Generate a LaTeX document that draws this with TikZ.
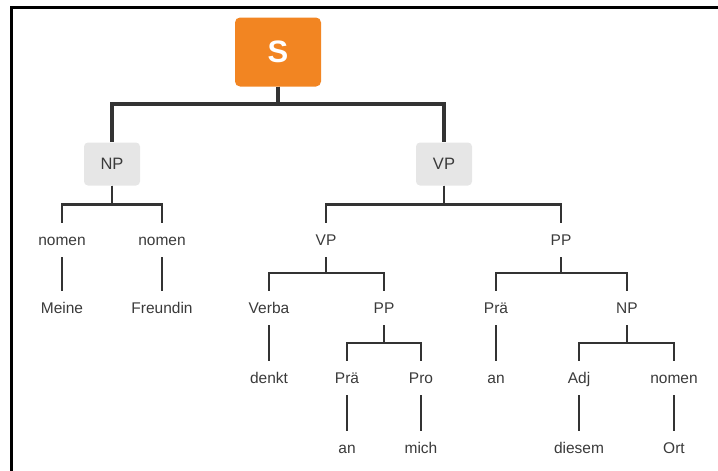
\documentclass[tikz,border=0pt]{standalone}
\usepackage{fontspec}
\setmainfont{Liberation Sans}
\definecolor{sorange}{HTML}{F28522}
\definecolor{boxgray}{HTML}{E6E6E6}
\definecolor{linegray}{HTML}{333333}
\definecolor{textgray}{HTML}{3A3A3A}
\tikzset{
  cat/.style={font=\fontsize{15.5}{17}\selectfont, text=textgray, inner sep=0pt,
    minimum height=34pt, text height=11pt, text depth=0pt},
  phrasebox/.style={cat, font=\fontsize{16.5}{18}\selectfont, fill=boxgray, rounded corners=4pt,
    minimum width=56pt, minimum height=43pt},
  rootbox/.style={fill=sorange, rounded corners=5pt, minimum width=86pt, minimum height=69pt,
    text=white, font=\fontsize{31}{33}\selectfont\bfseries, inner sep=0pt},
  branch/.style={draw=linegray, line width=2.5pt},
  mainbranch/.style={draw=linegray, line width=4pt}
}
\begin{document}
\begin{tikzpicture}[x=1pt, y=-1pt]
\useasboundingbox (0,0) rectangle (718,471);
\draw[line width=3pt] (11,471) -- (11,7) -- (718,7);
% nodes
\node[rootbox] (s) at (278,52) {S};
\node[phrasebox] (np) at (112,164) {NP};
\node[phrasebox] (vp) at (444,164) {VP};
\node[cat] (nomA) at (62,240) {nomen};
\node[cat] (nomB) at (162,240) {nomen};
\node[cat] (meine) at (62,308) {Meine};
\node[cat] (freundin) at (162,308) {Freundin};
\node[cat] (vpB) at (326,240) {VP};
\node[cat] (ppA) at (561,240) {PP};
\node[cat] (verba) at (269,308) {Verba};
\node[cat] (ppB) at (384,308) {PP};
\node[cat] (praeA) at (496,308) {Prä};
\node[cat] (npB) at (627,308) {NP};
\node[cat] (denkt) at (269,378) {denkt};
\node[cat] (praeB) at (347,378) {Prä};
\node[cat] (pro) at (421,378) {Pro};
\node[cat] (anA) at (496,378) {an};
\node[cat] (adj) at (579,378) {Adj};
\node[cat] (nomC) at (674,378) {nomen};
\node[cat] (anB) at (347,448) {an};
\node[cat] (mich) at (421,448) {mich};
\node[cat] (diesem) at (579,448) {diesem};
\node[cat] (ort) at (674,448) {Ort};
% connectors
\draw[mainbranch] (s.south) -- ++(0,17.5) -| (np.north);
\draw[mainbranch] (s.south) -- ++(0,17.5) -| (vp.north);
\draw[branch] (np.south) -- ++(0,19) -| (nomA.north);
\draw[branch] (np.south) -- ++(0,19) -| (nomB.north);
\draw[branch] (nomA) -- (meine);
\draw[branch] (nomB) -- (freundin);
\draw[branch] (vp.south) -- ++(0,19) -| (vpB.north);
\draw[branch] (vp.south) -- ++(0,19) -| (ppA.north);
\draw[branch] (vpB.south) -- ++(0,16) -| (verba.north);
\draw[branch] (vpB.south) -- ++(0,16) -| (ppB.north);
\draw[branch] (ppA.south) -- ++(0,16) -| (praeA.north);
\draw[branch] (ppA.south) -- ++(0,16) -| (npB.north);
\draw[branch] (verba) -- (denkt);
\draw[branch] (ppB.south) -- ++(0,18) -| (praeB.north);
\draw[branch] (ppB.south) -- ++(0,18) -| (pro.north);
\draw[branch] (praeA) -- (anA);
\draw[branch] (npB.south) -- ++(0,18) -| (adj.north);
\draw[branch] (npB.south) -- ++(0,18) -| (nomC.north);
\draw[branch] (praeB) -- (anB);
\draw[branch] (pro) -- (mich);
\draw[branch] (adj) -- (diesem);
\draw[branch] (nomC) -- (ort);
\end{tikzpicture}
\end{document}
